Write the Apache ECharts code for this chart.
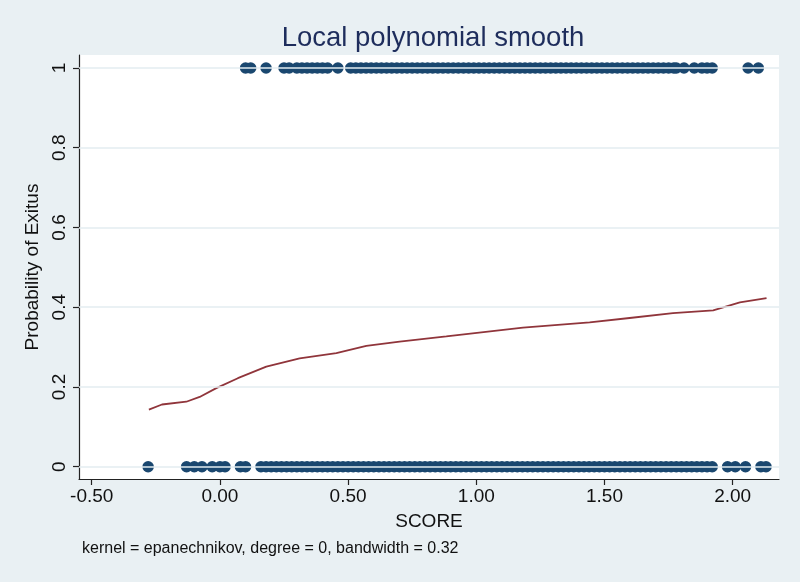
<!DOCTYPE html>
<html>
<head>
<meta charset="utf-8">
<script src="https://cdn.jsdelivr.net/npm/echarts@6/dist/echarts.min.js"></script>
<style>
html,body{margin:0;padding:0;background:#e9f0f3;}
#c{width:800px;height:582px;}
</style>
</head>
<body>
<div id="c"></div>
<script>
// Observed outcomes: SCORE values with Exitus = 0
const zeroX = [-0.28,-0.13,-0.10,-0.07,-0.03,0.00,0.02,0.08,0.10,
0.16,0.18,0.20,0.22,0.24,0.26,0.28,0.30,0.32,0.34,0.36,0.38,0.40,0.42,0.44,0.46,0.48,0.50,0.52,0.54,0.56,0.58,0.60,0.62,0.64,0.66,0.68,0.70,0.72,0.74,0.76,0.78,0.80,0.82,0.84,0.86,0.88,0.90,0.92,0.94,0.96,0.98,1.00,1.02,1.04,1.06,1.08,1.10,1.12,1.14,1.16,1.18,1.20,1.22,1.24,1.26,1.28,1.30,1.32,1.34,1.36,1.38,1.40,1.42,1.44,1.46,1.48,1.50,1.52,1.54,1.56,1.58,1.60,1.62,1.64,1.66,1.68,1.70,1.72,1.74,1.76,1.78,1.80,1.82,1.84,1.86,1.88,1.90,1.92,
1.98,2.01,2.05,2.11,2.13];
// SCORE values with Exitus = 1
const oneX = [0.10,0.12,0.18,0.25,0.27,0.30,0.32,0.34,0.36,0.38,0.40,0.42,0.46,0.51,
0.53,0.55,0.57,0.59,0.61,0.63,0.65,0.67,0.69,0.71,0.73,0.75,0.77,0.79,0.81,0.83,0.85,0.87,0.89,0.91,0.93,0.95,0.97,0.99,1.01,1.03,1.05,1.07,1.09,1.11,1.13,1.15,1.17,1.19,1.21,1.23,1.25,1.27,1.29,1.31,1.33,1.35,1.37,1.39,1.41,1.43,1.45,1.47,1.49,1.51,1.53,1.55,1.57,1.59,1.61,1.63,1.65,1.67,1.69,1.71,1.73,1.75,1.77,1.78,
1.81,1.85,1.88,1.90,1.92,2.06,2.10];
// Local polynomial smooth
const smoothX = [-0.277,-0.226,-0.131,-0.079,-0.014,0.070,0.181,0.311,0.454,0.571,0.701,0.883,1.182,1.442,1.598,1.767,1.924,2.028,2.132];
const smoothY = [0.143,0.156,0.163,0.175,0.197,0.222,0.251,0.272,0.285,0.303,0.314,0.327,0.349,0.362,0.373,0.385,0.392,0.412,0.423];
// Tick labels
const xTicks = [-0.5,0,0.5,1,1.5,2];
const yTicks = [0,0.2,0.4,0.6,0.8,1];

const FONT = '"Liberation Sans", Arial, Helvetica, sans-serif';
const chart = echarts.init(document.getElementById('c'));
chart.setOption({
  backgroundColor:'#e9f0f3',
  animation:false,
  title:{
    text:'Local polynomial smooth',
    left:428, top:19, textAlign:'center',
    textStyle:{fontFamily:FONT,fontSize:27.5,fontWeight:'normal',color:'#1e2d5c'}
  },
  grid:{left:79,right:21,top:55,bottom:103,show:true,backgroundColor:'#ffffff',borderWidth:0},
  xAxis:{
    type:'value', min:-0.5496, max:2.1806,
    name:'SCORE', nameLocation:'middle', nameGap:33,
    nameTextStyle:{fontFamily:FONT,fontSize:19,color:'#111'},
    axisLine:{show:true,onZero:false,lineStyle:{color:'#222',width:1.2}},
    axisTick:{show:true,length:6,customValues:xTicks,lineStyle:{color:'#222',width:1.2}},
    axisLabel:{customValues:xTicks,margin:8,fontFamily:FONT,fontSize:19,color:'#111',
      formatter:v=>v.toFixed(2)},
    splitLine:{show:false}
  },
  yAxis:{
    type:'value', min:-0.0308, max:1.0326,
    name:'Probability of Exitus', nameLocation:'middle', nameGap:31, nameRotate:90,
    nameTextStyle:{fontFamily:FONT,fontSize:19,color:'#111'},
    axisLine:{show:true,onZero:false,lineStyle:{color:'#222',width:1.2}},
    axisTick:{show:true,length:6,customValues:yTicks,lineStyle:{color:'#222',width:1.2}},
    axisLabel:{customValues:yTicks,rotate:90,margin:10,fontFamily:FONT,fontSize:19,color:'#111',
      formatter:v=>String(v)},
    splitLine:{show:false}
  },
  graphic:[{
    type:'text', left:82, top:541,
    style:{text:'kernel = epanechnikov, degree = 0, bandwidth = 0.32',
      font:'16px '+FONT, fill:'#111'}
  }],
  series:[
    {
      type:'scatter', data:[], z:1, silent:true,
      markLine:{silent:true,symbol:['none','none'],label:{show:false},
        lineStyle:{color:'#e3ecf0',width:1.5,type:'solid'},
        data:yTicks.map(v=>({yAxis:v}))}
    },
    {
      type:'scatter', z:3, symbol:'circle', symbolSize:11.5,
      itemStyle:{color:'#1a476f',opacity:1},
      data:zeroX.map(x=>[x,0]).concat(oneX.map(x=>[x,1]))
    },
    {
      type:'line', z:4, showSymbol:false, symbol:'none', smooth:false,
      lineStyle:{color:'#90353b',width:1.8},
      data:smoothX.map((x,i)=>[x,smoothY[i]])
    }
  ]
});
</script>
</body>
</html>
